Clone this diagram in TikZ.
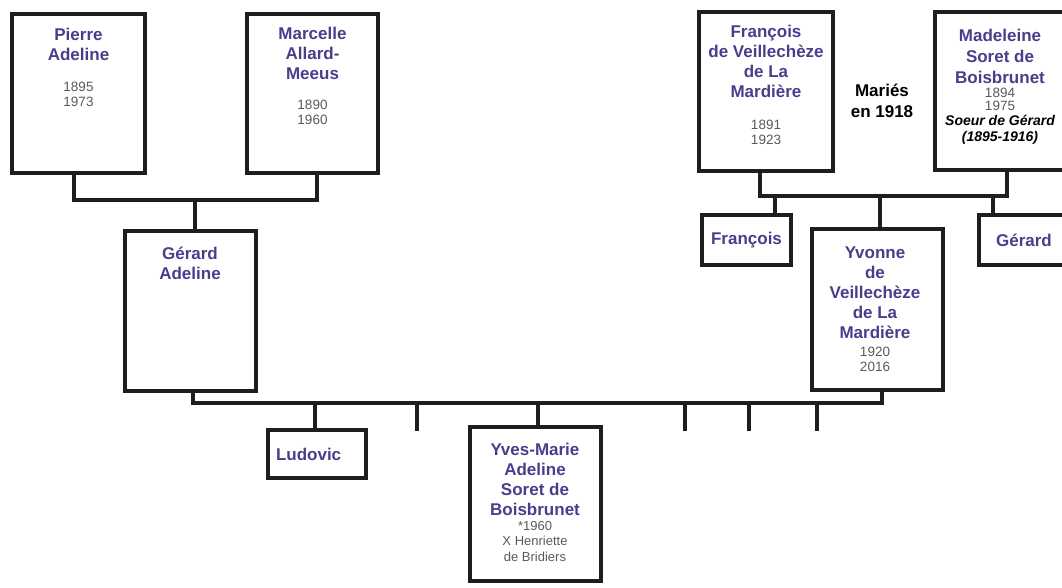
\documentclass[tikz,border=0pt]{standalone}
\usepackage{fontspec}
\setmainfont{Liberation Sans}
\definecolor{nm}{RGB}{72,62,140}
\definecolor{dt}{RGB}{90,90,90}
\definecolor{ln}{RGB}{30,30,30}
\begin{document}
\begin{tikzpicture}[x=1pt,y=-1pt,
  box/.style={draw=ln,line width=4pt,inner sep=0pt,outer sep=0pt,anchor=north west},
  conn/.style={draw=ln,line width=4pt},
  pname/.style={text=nm,font=\fontsize{17}{20}\selectfont\bfseries,align=center,anchor=north,inner sep=0pt},
  pdate/.style={text=dt,font=\fontsize{13.5}{14.5}\selectfont,align=center,anchor=north,inner sep=0pt},
  pnote/.style={text=black,font=\fontsize{14}{16.5}\selectfont\bfseries\itshape,align=center,anchor=north,inner sep=0pt},
  married/.style={text=black,font=\fontsize{17}{21}\selectfont\bfseries,align=center,anchor=north,inner sep=0pt},
  small/.style={box,text=nm,font=\fontsize{17}{20}\selectfont\bfseries}]
\useasboundingbox (0,0) rectangle (1062,587);
\clip (0,0) rectangle (1062,587);
% boxes
\node[box,minimum width=133pt,minimum height=159pt] (pa) at (12,14) {};
\node[box,minimum width=131pt,minimum height=159pt] (ma) at (247,14) {};
\node[box,minimum width=131pt,minimum height=160pt] (ga) at (125,231) {};
\node[box,minimum width=134pt,minimum height=159pt] (fv) at (699,12) {};
\node[box,minimum width=135pt,minimum height=158pt] (md) at (935,12) {};
\node[small,minimum width=89pt,minimum height=50pt] (fs) at (702,215) {François};
\node[small,minimum width=90pt,minimum height=50pt,text width=82pt,inner xsep=4pt,align=center] (gs) at (979,215) {Gérard};
\node[box,minimum width=131pt,minimum height=161pt] (yv) at (812,229) {};
\node[small,minimum width=98pt,minimum height=48pt,text width=82pt,inner xsep=8pt,align=left] (lu) at (268,430) {Ludovic};
\node[box,minimum width=131pt,minimum height=154pt] (ym) at (470,427) {};
% texts
\node[pname] (paN) at (78.5,28) {Pierre\\Adeline};
\node[pdate] (paD) at (78.5,82) {1895\\1973};
\node[pname] (maN) at (312.5,27) {Marcelle\\Allard-\\Meeus};
\node[pdate] (maD) at (312.5,100) {1890\\1960};
\node[pname] (gaN) at (190,247) {Gérard\\Adeline};
\node[pname] (fvN) at (766,25) {François\\de Veillechèze\\de La\\Mardière};
\node[pdate] (fvD) at (766,120) {1891\\1923};
\node[married] (mar) at (882,84) {Mariés\\en 1918};
\node[pname,font=\fontsize{17}{21}\selectfont\bfseries] (mdN) at (1000,29) {Madeleine\\Soret de\\Boisbrunet};
\node[pdate,font=\fontsize{13.5}{13}\selectfont] (mdD) at (1000,88) {1894\\1975};
\node[pnote] (mdS) at (1000,115) {Soeur de Gérard\\(1895-1916)};
\node[pname] (yvN) at (875,247) {Yvonne\\de\\Veillechèze\\de La\\Mardière};
\node[pdate,font=\fontsize{13.5}{15}\selectfont] (yvD) at (875,347) {1920\\2016};
\node[pname] (ymN) at (535,443) {Yves-Marie\\Adeline\\Soret de\\Boisbrunet};
\node[pdate,font=\fontsize{13}{15.5}\selectfont] (ymD) at (535,521) {*1960\\X Henriette\\de Bridiers};
% junctions
\coordinate (ml) at (195,200);
\coordinate (mr) at (880,196);
\coordinate (mb) at (537,403);
\coordinate (t1) at (417,431);
\coordinate (t2) at (685,431);
\coordinate (t3) at (749,431);
\coordinate (t4) at (817,431);
% connectors
\draw[conn] ([xshift=-5pt]pa.south) |- (ml) -| ([xshift=4pt]ma.south);
\draw[conn] (ml) -- (ml |- ga.north);
\draw[conn] ([xshift=-6pt]fv.south) |- (mr) -| ([xshift=4.5pt]md.south);
\draw[conn] (mr) -- (mr |- yv.north);
\draw[conn] ([xshift=28pt]fs.north) -- ([xshift=28pt]fs.north |- mr);
\draw[conn] ([xshift=-31pt]gs.north) -- ([xshift=-31pt]gs.north |- mr);
\draw[conn] ([xshift=2pt]ga.south) |- (mb) -| ([xshift=4.5pt]yv.south);
\draw[conn] ([xshift=-2pt]lu.north) -- ([xshift=-2pt]lu.north |- mb);
\draw[conn] ([xshift=2pt]ym.north) -- ([xshift=2pt]ym.north |- mb);
\draw[conn] (t1) -- (t1 |- mb);
\draw[conn] (t2) -- (t2 |- mb);
\draw[conn] (t3) -- (t3 |- mb);
\draw[conn] (t4) -- (t4 |- mb);
\end{tikzpicture}
\end{document}
